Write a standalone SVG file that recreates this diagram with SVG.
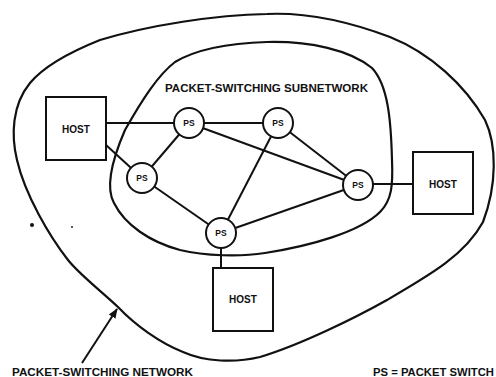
<svg xmlns="http://www.w3.org/2000/svg" width="496" height="377" viewBox="0 0 496 377">
  <style>
    .boundary { fill: none; stroke: #111; stroke-width: 2.2; stroke-linejoin: round; }
    .link { stroke: #111; stroke-width: 2; fill: none; }
    .host { fill: #fff; stroke: #111; stroke-width: 2; }
    .ps { fill: #fff; stroke: #111; stroke-width: 2; }
    .lbl { font-family: "Liberation Sans", Arial, sans-serif; font-weight: bold; fill: #111; }
    .hostText { font-size: 10px; text-anchor: middle; }
    .psText { font-size: 8.5px; text-anchor: middle; }
    .caption { font-size: 10px; }
  </style>
  <defs>
    <marker id="arrowHead" viewBox="0 0 10 10" refX="9" refY="5" markerWidth="5" markerHeight="5" orient="auto" markerUnits="strokeWidth">
      <path d="M0,1 L10,5 L0,9 Z" fill="#111"/>
    </marker>
  </defs>

  <rect width="496" height="377" fill="#fff"/>

  <!-- outer network boundary -->
  <path id="network-boundary" class="boundary" d="M267,14 C310,12 350,22 390,37 C430,53 465,85 485,120 C497,145 497,185 483,222 C465,255 430,275 387,300 C355,318 300,345 260,357 C235,363 205,362 183,352 C160,343 135,325 118,307 C100,290 80,275 68,260 C50,237 25,195 17,160 C11,135 12,105 30,83 C45,65 70,52 100,40 C150,25 215,15 267,14 Z"/>

  <!-- inner subnetwork boundary -->
  <path id="subnetwork-boundary" class="boundary" d="M267,42 C310,41 350,50 372,68 C388,85 391,120 392,160 C393,185 392,200 380,212 C360,232 310,246 265,253 C240,257 205,256 180,250 C150,242 125,225 114,203 C105,187 112,160 125,130 C142,100 158,75 175,62 C200,47 235,43 267,42 Z"/>

  <g id="connectors">
    <line class="link" x1="106" y1="123" x2="189" y2="123"/>
    <line class="link" x1="106" y1="145" x2="142" y2="178"/>
    <line class="link" x1="189" y1="123" x2="278" y2="123"/>
    <line class="link" x1="189" y1="123" x2="142" y2="178"/>
    <line class="link" x1="189" y1="123" x2="358" y2="185"/>
    <line class="link" x1="278" y1="123" x2="358" y2="185"/>
    <line class="link" x1="278" y1="123" x2="221" y2="233"/>
    <line class="link" x1="142" y1="178" x2="221" y2="233"/>
    <line class="link" x1="358" y1="185" x2="221" y2="233"/>
    <line class="link" x1="358" y1="184" x2="413" y2="184"/>
    <line class="link" x1="221" y1="233" x2="221" y2="268"/>
    <line class="link" x1="82" y1="363" x2="117" y2="309" marker-end="url(#arrowHead)"/>
  </g>

  <g id="host-left">
    <rect class="host" x="46" y="97" width="60" height="63"/>
    <text class="lbl hostText" x="76" y="132.5">HOST</text>
  </g>
  <g id="host-right">
    <rect class="host" x="413" y="152" width="60" height="62"/>
    <text class="lbl hostText" x="443" y="187.5">HOST</text>
  </g>
  <g id="host-bottom">
    <rect class="host" x="213" y="268" width="60" height="63"/>
    <text class="lbl hostText" x="243" y="303">HOST</text>
  </g>

  <g id="ps-1">
    <circle class="ps" cx="189" cy="123" r="15"/>
    <text class="lbl psText" x="189" y="126">PS</text>
  </g>
  <g id="ps-2">
    <circle class="ps" cx="278" cy="123" r="15"/>
    <text class="lbl psText" x="278" y="126">PS</text>
  </g>
  <g id="ps-3">
    <circle class="ps" cx="142" cy="178" r="15"/>
    <text class="lbl psText" x="142" y="181">PS</text>
  </g>
  <g id="ps-4">
    <circle class="ps" cx="358" cy="185" r="15"/>
    <text class="lbl psText" x="358" y="188">PS</text>
  </g>
  <g id="ps-5">
    <circle class="ps" cx="221" cy="233" r="15"/>
    <text class="lbl psText" x="221" y="236">PS</text>
  </g>

  <!-- stray specks -->
  <circle cx="32" cy="225" r="2" fill="#111"/>
  <circle cx="72" cy="227" r="0.9" fill="#111"/>

  <text class="lbl caption" x="165" y="92" textLength="203" lengthAdjust="spacingAndGlyphs">PACKET-SWITCHING SUBNETWORK</text>
  <text class="lbl caption" x="12" y="376" textLength="181" lengthAdjust="spacingAndGlyphs">PACKET-SWITCHING NETWORK</text>
  <text class="lbl caption" x="373" y="376" textLength="121" lengthAdjust="spacingAndGlyphs">PS = PACKET SWITCH</text>
</svg>
